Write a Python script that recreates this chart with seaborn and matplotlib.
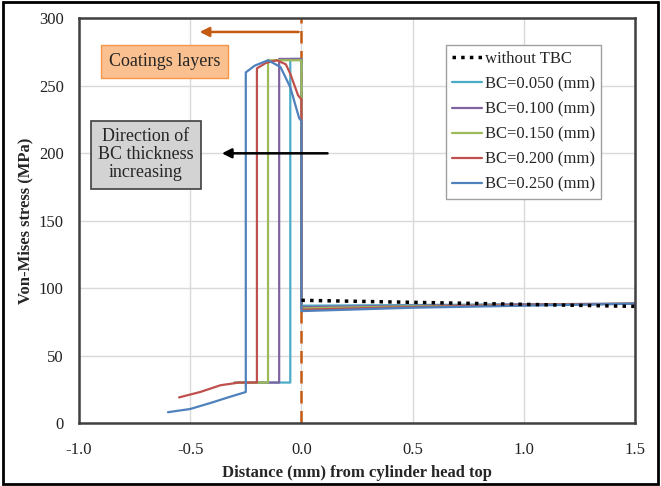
import numpy as np
import pandas as pd
import matplotlib
matplotlib.use("Agg")
import matplotlib.pyplot as plt
import seaborn as sns
from matplotlib.patches import Rectangle

# data (x in mm, y in MPa)
no_tbc_x = [0.0, 0.5, 1.0, 1.5]
no_tbc_y = [91, 89.5, 88, 86.5]

bc050_x = [-0.3, -0.05, -0.05, 0.0, 0.0, 0.5, 1.0, 1.5]
bc050_y = [30, 30, 270, 270, 87, 87.5, 88, 88.5]

bc100_x = [-0.3, -0.10, -0.10, 0.0, 0.0, 0.5, 1.0, 1.5]
bc100_y = [30, 30, 270, 270, 86, 87, 88, 88.5]

bc150_x = [-0.3, -0.15, -0.15, 0.0, 0.0, 0.5, 1.0, 1.5]
bc150_y = [30, 30, 269, 269, 85, 86.5, 87.5, 88.5]

bc200_x = [-0.55, -0.455, -0.364, -0.28, -0.2, -0.2, -0.16, -0.11, -0.07, -0.05, -0.015, 0.0, 0.0, 0.5, 1.0, 1.5]
bc200_y = [19, 23, 28, 30, 30, 263, 267, 269, 266, 259, 243, 240, 84, 86, 87.5, 88.5]

bc250_x = [-0.6, -0.5, -0.41, -0.32, -0.25, -0.25, -0.21, -0.15, -0.094, -0.05, -0.01, 0.0, 0.0, 0.5, 1.0, 1.5]
bc250_y = [8, 10.4, 14.8, 19.5, 23, 260, 265, 269, 264, 249, 226, 224, 83, 85.5, 87, 88.5]

bc_labels = ["BC=0.050 (mm)", "BC=0.100 (mm)", "BC=0.150 (mm)", "BC=0.200 (mm)", "BC=0.250 (mm)"]
bc_colors = ["#4BACC6", "#8064A2", "#9BBB59", "#C0504D", "#4F81BD"]
x_ticks = [-1.0, -0.5, 0.0, 0.5, 1.0, 1.5]
y_ticks = [0, 50, 100, 150, 200, 250, 300]

sns.set_theme(style="whitegrid")
plt.rcParams["font.family"] = ["Liberation Serif", "DejaVu Serif"]

fig = plt.figure(figsize=(6.61, 4.86), dpi=100)
ax = fig.add_axes([0.1195, 0.1296, 0.8412, 0.8324])

series = [(bc050_x, bc050_y), (bc100_x, bc100_y), (bc150_x, bc150_y),
          (bc200_x, bc200_y), (bc250_x, bc250_y)]
for (xs, ys), lab, col in zip(series, bc_labels, bc_colors):
    df = pd.DataFrame({"x": xs, "y": ys})
    sns.lineplot(data=df, x="x", y="y", estimator=None, sort=False,
                 color=col, linewidth=1.6, ax=ax, label=lab)

df0 = pd.DataFrame({"x": no_tbc_x, "y": no_tbc_y})
sns.lineplot(data=df0, x="x", y="y", estimator=None, sort=False, color="black",
             linewidth=2.5, linestyle=(0, (1, 1.5)), ax=ax, label="without TBC")

# coating boundary
ax.axvline(0.0, color="#C55A11", linestyle=(0, (5, 3)), linewidth=1.8, zorder=1)

ax.set_xlim(-1.0, 1.5)
ax.set_ylim(0, 300)
ax.set_xticks(x_ticks)
ax.set_xticklabels([f"{v:.1f}" for v in x_ticks])
ax.set_yticks(y_ticks)
ax.tick_params(axis="x", labelsize=12, colors="#222222", length=0, pad=14)
ax.tick_params(axis="y", labelsize=12, colors="#222222", length=0, pad=11)
ax.grid(True, color="#D9D9D9", linewidth=1)
for sp in ax.spines.values():
    sp.set_color("#404040")
    sp.set_linewidth(1.8)

ax.set_xlabel("Distance (mm) from cylinder head top", fontsize=12, fontweight="bold", labelpad=5)
ax.set_ylabel("Von-Mises stress (MPa)", fontsize=12, fontweight="bold", labelpad=4)

# annotations
ax.annotate("", xy=(-0.47, 290), xytext=(0.0, 290),
            arrowprops=dict(arrowstyle="-|>", color="#C55A11", lw=1.8, mutation_scale=14))
ax.annotate("", xy=(-0.37, 200), xytext=(0.13, 200),
            arrowprops=dict(arrowstyle="-|>", color="black", lw=1.8, mutation_scale=14))
ax.text(-0.616, 268, "Coatings layers", fontsize=13, ha="center", va="center",
        bbox=dict(boxstyle="square,pad=0.45", facecolor="#FAC090", edgecolor="#F79646", lw=1))
ax.text(-0.70, 199, "Direction of\nBC thickness\nincreasing", fontsize=13, ha="center", va="center",
        linespacing=1.1,
        bbox=dict(boxstyle="square,pad=0.4", facecolor="#D3D3D3", edgecolor="#404040", lw=1.2))

h, l = ax.get_legend_handles_labels()
order = [5, 0, 1, 2, 3, 4]
leg = ax.legend([h[i] for i in order], [l[i] for i in order], loc="upper left",
                bbox_to_anchor=(0.66, 0.934), fontsize=12, frameon=True, fancybox=False,
                edgecolor="#A0A0A0", framealpha=1, handlelength=1.8, handletextpad=0.2,
                labelspacing=0.55, borderpad=0.35, borderaxespad=0)
leg.get_frame().set_linewidth(1)

# outer figure border
fig.patches.append(Rectangle((0.005, 0.005), 0.99, 0.99, transform=fig.transFigure,
                             fill=False, edgecolor="black", linewidth=2))

fig.savefig("out.png", dpi=100)
